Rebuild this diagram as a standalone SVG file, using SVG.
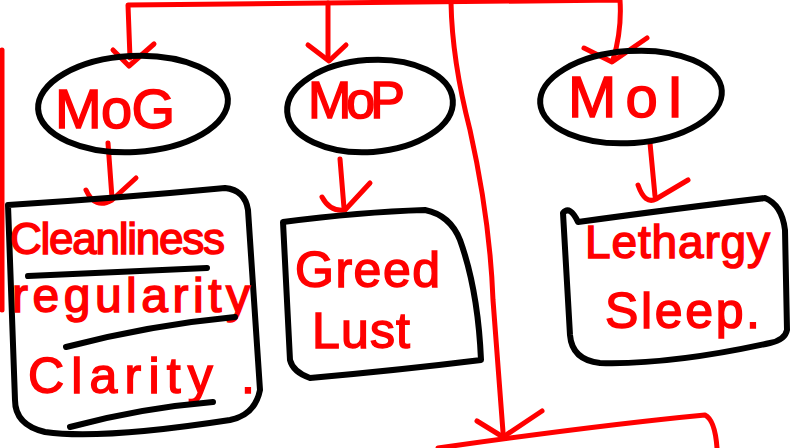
<svg xmlns="http://www.w3.org/2000/svg" width="793" height="448" viewBox="0 0 793 448">
<style>
.r{fill:none;stroke:#ff0000;stroke-width:5;stroke-linecap:round;stroke-linejoin:round}
.k{fill:none;stroke:#000;stroke-width:6;stroke-linecap:round;stroke-linejoin:round}
.t{fill:#ff0000;stroke:#ff0000;stroke-width:1.5;font-family:"Liberation Sans","DejaVu Sans",sans-serif}
</style>
<rect width="793" height="448" fill="#fff"/>
<g id="connectors">
<path class="r" d="M130,58 L128,5 Q330,2 620,0 Q622,30 613,60"/>
<path class="r" d="M328,3 L328,58"/>
<path class="r" d="M113,50 L129,66 L154,44"/>
<path class="r" d="M308,45 L329,61 L346,45"/>
<path class="r" d="M584,48 L612,62 L647,38"/>
<path class="r" d="M451,2 Q452,60 470,130 Q490,220 493,300 L503,432"/>
<path class="r" d="M477,421 L503,437 L542,411"/>
<path class="r" d="M438,448 Q600,425 705,415 Q715,420 717,448"/>
<path class="r" d="M2,50 L2,310"/>
<path class="r" d="M108,143 L112,198"/>
<path class="r" d="M86,190 Q95,210 112,200 L136,178"/>
<path class="r" d="M340,159 L344,208"/>
<path class="r" d="M322,197 Q330,212 345,210 L370,183"/>
<path class="r" d="M650,143 L655,196"/>
<path class="r" d="M638,185 Q645,205 656,199 L688,180"/>
</g>
<g id="MoG">
<ellipse class="k" cx="133" cy="104" rx="95" ry="48" transform="rotate(-3 133 104)"/>
<text class="t" x="55" y="128" font-size="56" textLength="120">MoG</text>
</g>
<g id="MoP">
<ellipse class="k" cx="370" cy="106" rx="83" ry="46" transform="rotate(-4 370 106)"/>
<text class="t" x="308" y="118" font-size="52" textLength="97">MoP</text>
</g>
<g id="MoI">
<ellipse class="k" cx="631" cy="97" rx="91" ry="46" transform="rotate(-4 631 97)"/>
<text class="t" x="568" y="117" font-size="58" textLength="115">MoI</text>
</g>
<g id="box1">
<path class="k" d="M8,205 Q120,198 225,188 Q245,190 248,210 L260,390 Q255,415 230,420 Q100,440 45,432 Q15,425 15,400 Z"/>
<text class="t" x="10" y="254" font-size="44" textLength="215">Cleanliness</text>
<path class="k" d="M28,276 L207,268"/>
<text class="t" x="12" y="312" font-size="48" textLength="238">regularity</text>
<path class="k" d="M66,347 Q150,325 235,317"/>
<text class="t" x="28" y="393" font-size="50" textLength="227">Clarity .</text>
<path class="k" d="M70,427 Q140,408 213,402"/>
</g>
<g id="box2">
<path class="k" d="M283,222 Q360,212 425,210 Q450,215 460,240 Q478,290 481,360 Q400,370 310,378 Q293,372 290,360 Z"/>
<text class="t" x="295" y="287" font-size="50" textLength="145">Greed</text>
<text class="t" x="312" y="348" font-size="50" textLength="98">Lust</text>
</g>
<g id="box3">
<path class="k" d="M563,213 Q570,205 578,222 Q680,208 765,198 Q782,205 785,230 L787,330 Q785,340 770,343 Q670,365 600,363 Q572,360 570,335 Z"/>
<text class="t" x="585" y="258" font-size="46" textLength="185">Lethargy</text>
<text class="t" x="605" y="328" font-size="50" textLength="155">Sleep.</text>
</g>
</svg>
